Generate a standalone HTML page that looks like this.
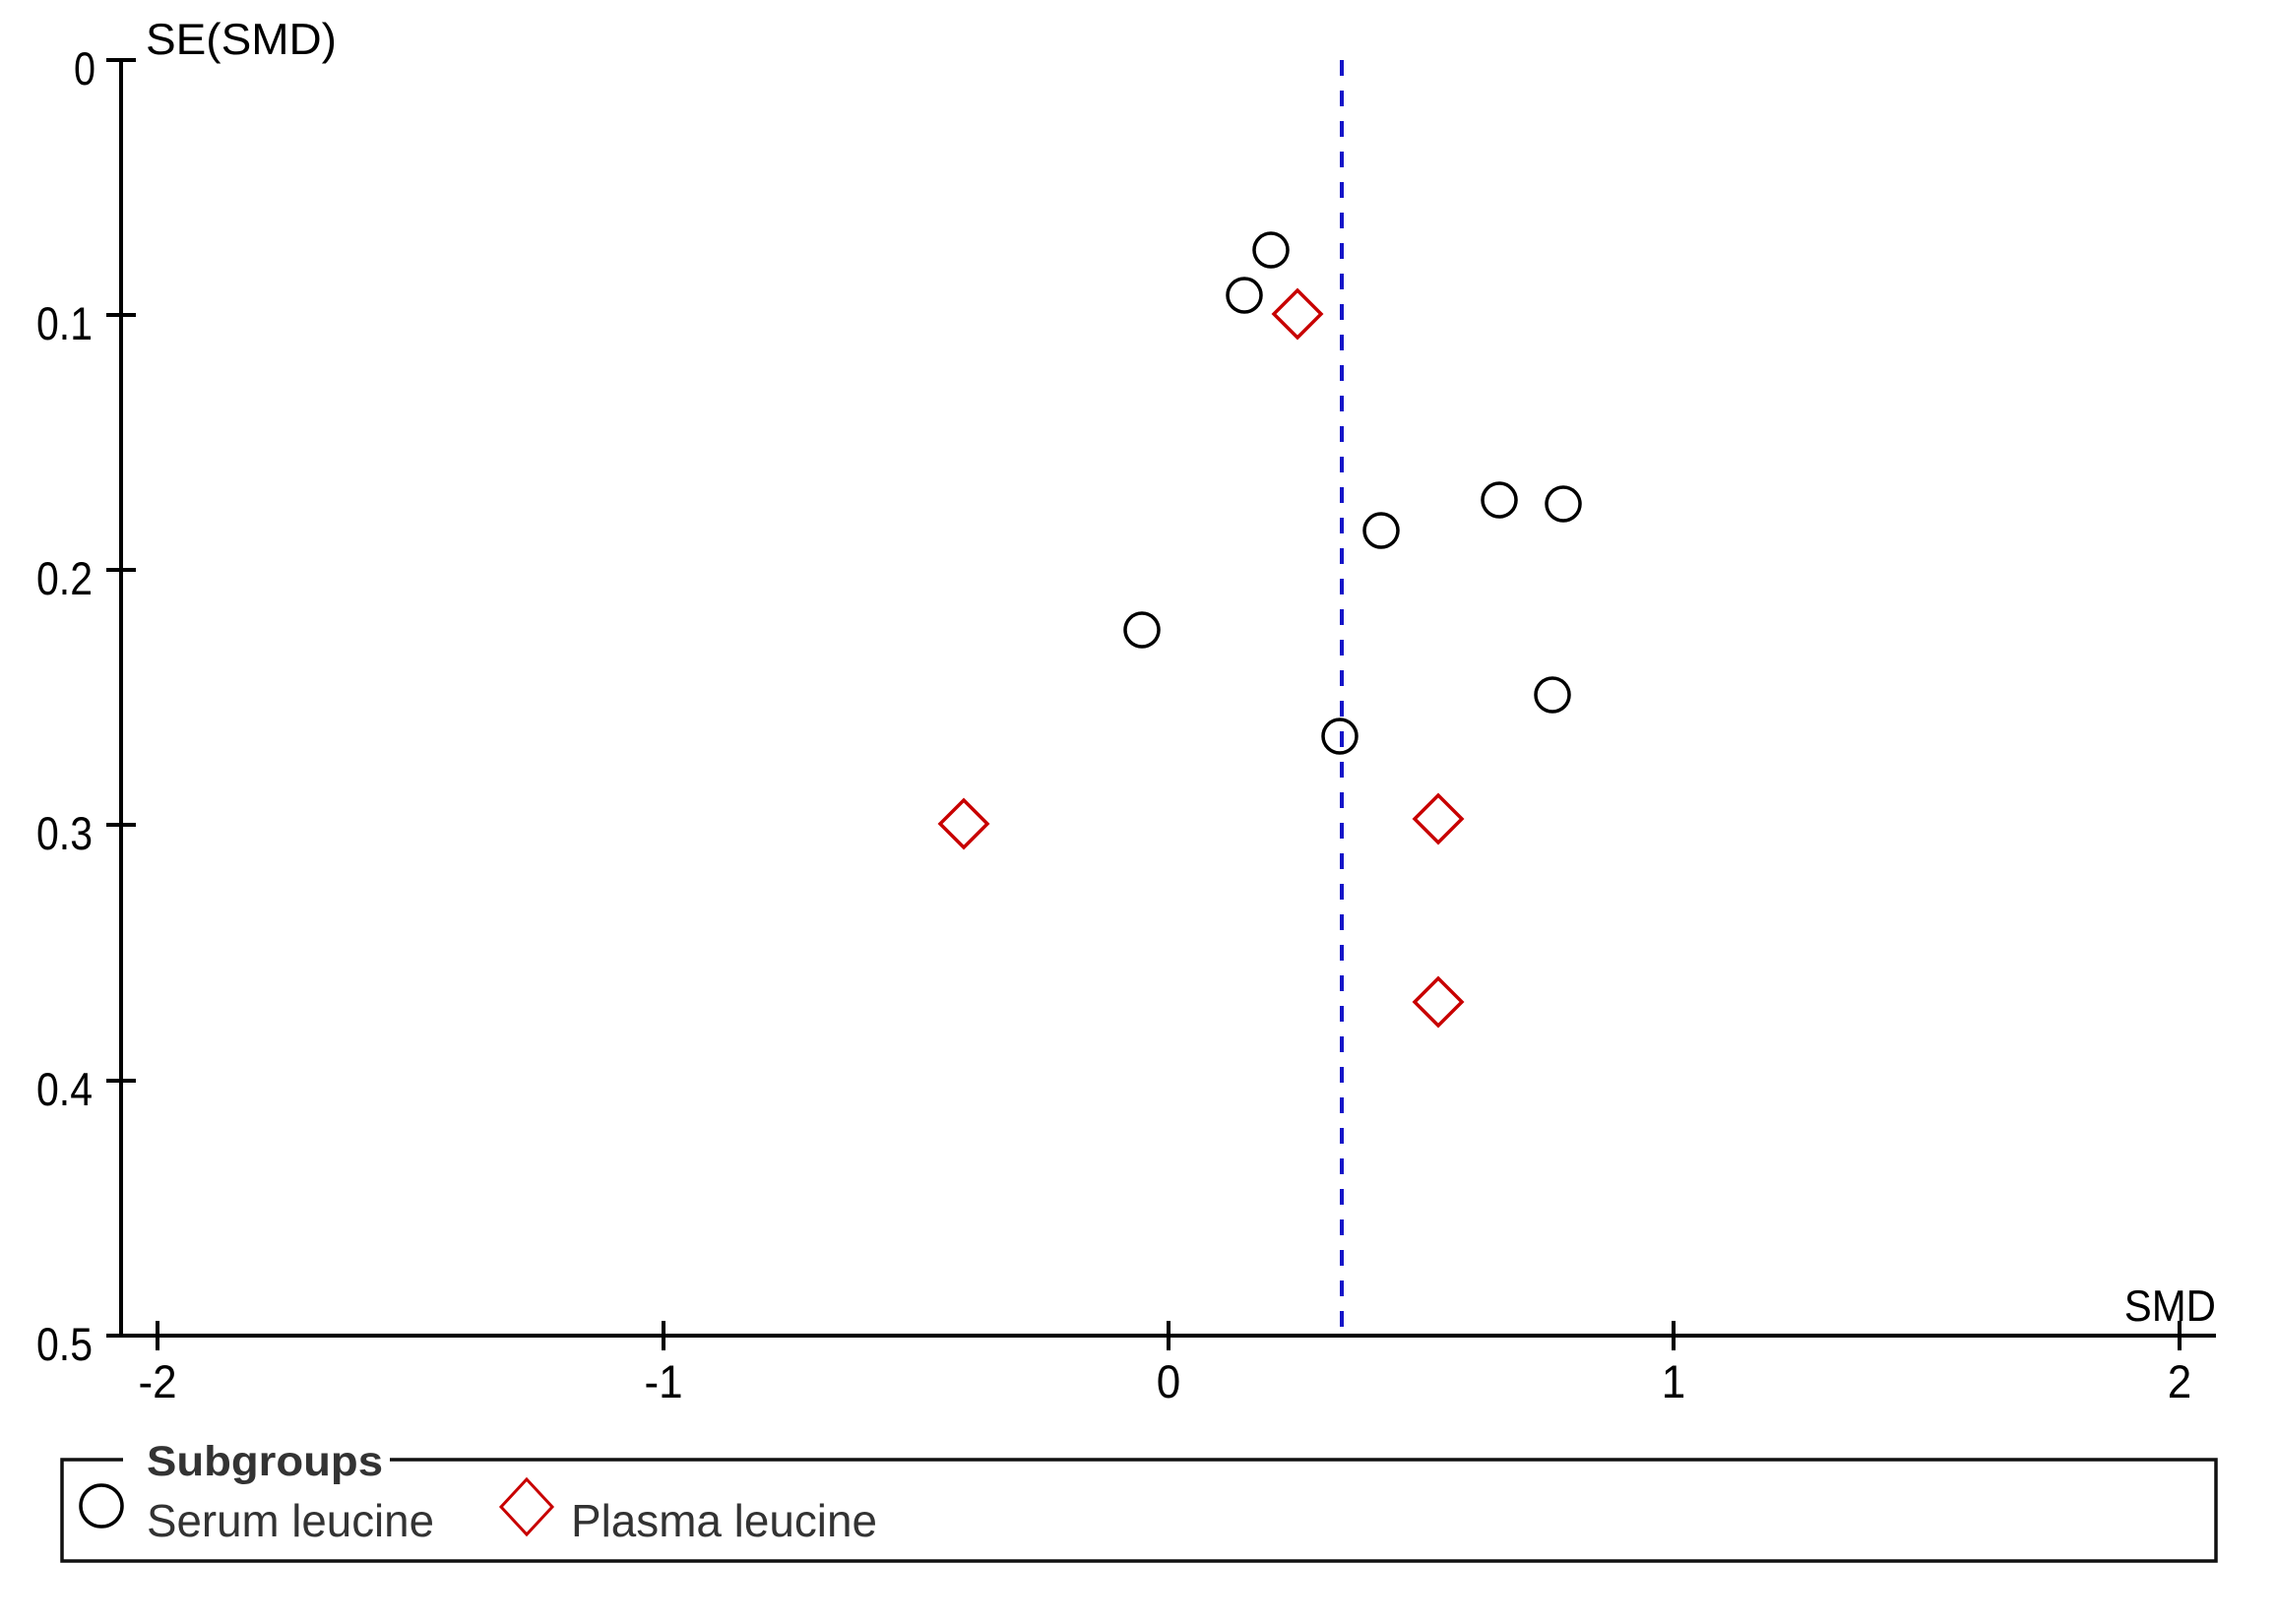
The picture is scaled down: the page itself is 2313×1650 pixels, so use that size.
<!DOCTYPE html>
<html><head><meta charset="utf-8"><style>html,body{margin:0;padding:0;background:#fff;}svg{display:block;}</style></head>
<body>
<svg width="2313" height="1650" viewBox="0 0 2313 1650" xmlns="http://www.w3.org/2000/svg" font-family="Liberation Sans, Arial, sans-serif">
<rect width="2313" height="1650" fill="#fff"/>
<line x1="1363" y1="61" x2="1363" y2="1357" stroke="#1414c8" stroke-width="4" stroke-dasharray="16,15"/>
<g stroke="#000" stroke-width="4" fill="none">
<line x1="123" y1="59" x2="123" y2="1359"/>
<line x1="108" y1="1357" x2="2251" y2="1357"/>
<line x1="108" y1="61" x2="138" y2="61"/>
<line x1="108" y1="320" x2="138" y2="320"/>
<line x1="108" y1="579" x2="138" y2="579"/>
<line x1="108" y1="838" x2="138" y2="838"/>
<line x1="108" y1="1098" x2="138" y2="1098"/>
<line x1="160" y1="1342" x2="160" y2="1372"/>
<line x1="674" y1="1342" x2="674" y2="1372"/>
<line x1="1187" y1="1342" x2="1187" y2="1372"/>
<line x1="1700" y1="1342" x2="1700" y2="1372"/>
<line x1="2214" y1="1342" x2="2214" y2="1372"/>
</g>
<g font-size="44" fill="#000">
<text transform="translate(75,86) scale(1,1.08)" textLength="22" lengthAdjust="spacingAndGlyphs">0</text>
<text transform="translate(37,345) scale(1,1.08)" textLength="57" lengthAdjust="spacingAndGlyphs">0.1</text>
<text transform="translate(37,604) scale(1,1.08)" textLength="57" lengthAdjust="spacingAndGlyphs">0.2</text>
<text transform="translate(37,863) scale(1,1.08)" textLength="57" lengthAdjust="spacingAndGlyphs">0.3</text>
<text transform="translate(37,1123) scale(1,1.08)" textLength="57" lengthAdjust="spacingAndGlyphs">0.4</text>
<text transform="translate(37,1382) scale(1,1.08)" textLength="57" lengthAdjust="spacingAndGlyphs">0.5</text>
</g>
<g font-size="44" fill="#000" text-anchor="middle">
<text transform="translate(160,1420) scale(1,1.08)">-2</text>
<text transform="translate(674,1420) scale(1,1.08)">-1</text>
<text transform="translate(1187,1420) scale(1,1.08)">0</text>
<text transform="translate(1700,1420) scale(1,1.08)">1</text>
<text transform="translate(2214,1420) scale(1,1.08)">2</text>
</g>
<text transform="translate(148,55) scale(1,1.05)" font-size="42" fill="#000" textLength="194" lengthAdjust="spacingAndGlyphs">SE(SMD)</text>
<text transform="translate(2251,1342) scale(1,1.05)" font-size="42" fill="#000" text-anchor="end">SMD</text>
<g stroke="#000" stroke-width="3.5" fill="none">
<circle cx="1291" cy="254" r="17"/>
<circle cx="1264" cy="300" r="17"/>
<circle cx="1523" cy="508" r="17"/>
<circle cx="1588" cy="512" r="17"/>
<circle cx="1403" cy="539" r="17"/>
<circle cx="1160" cy="640" r="17"/>
<circle cx="1577" cy="706" r="17"/>
<circle cx="1361" cy="748" r="17"/>
</g>
<g stroke="#c80000" stroke-width="3.5" fill="none">
<polygon points="1318,295 1342,319 1318,343 1294,319"/>
<polygon points="979,813 1003,837 979,861 955,837"/>
<polygon points="1461,808 1485,832 1461,856 1437,832"/>
<polygon points="1461,994 1485,1018 1461,1042 1437,1018"/>
</g>
<g stroke="#111" stroke-width="3.5" fill="none">
<polyline points="125,1483 63,1483 63,1586 2251,1586 2251,1483 396,1483"/>
</g>
<text transform="translate(149,1499) scale(1,1.15)" font-size="37" font-weight="bold" fill="#333" textLength="240" lengthAdjust="spacingAndGlyphs">Subgroups</text>
<circle cx="103" cy="1530" r="21" stroke="#000" stroke-width="3.5" fill="none"/>
<text transform="translate(149,1561) scale(1,1.15)" font-size="40" fill="#333" textLength="292" lengthAdjust="spacingAndGlyphs">Serum leucine</text>
<polygon points="535,1503 561,1531 535,1559 509,1531" stroke="#c80000" stroke-width="3" fill="none"/>
<text transform="translate(580,1561) scale(1,1.15)" font-size="40" fill="#333" textLength="311" lengthAdjust="spacingAndGlyphs">Plasma leucine</text>
</svg>
</body></html>
